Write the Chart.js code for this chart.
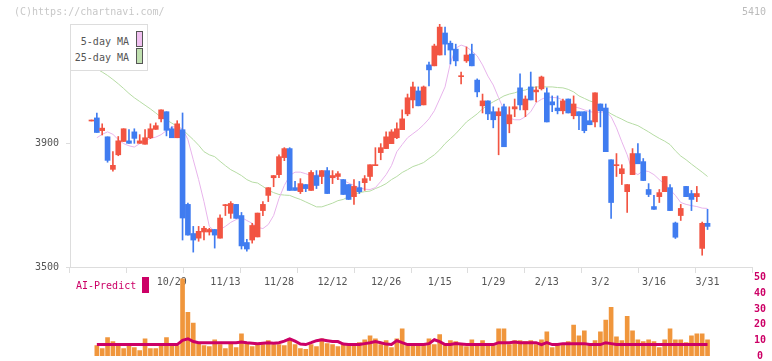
<!DOCTYPE html>
<html>
<head>
<meta charset="utf-8">
<script src="https://cdn.jsdelivr.net/npm/chart.js@4.4.1/dist/chart.umd.min.js"></script>
<style>
html, body { margin: 0; padding: 0; background: #fff; }
#wrap { position: relative; width: 772px; height: 361px; overflow: hidden; font-family: "DejaVu Sans Mono", monospace; font-size: 10px; }
canvas { position: absolute; left: 0; }
#price { top: 0; z-index: 1; }
#vol { top: 268px; z-index: 2; }
.t { position: absolute; white-space: nowrap; line-height: 12px; z-index: 3; }
#legend { position: absolute; left: 70px; top: 24px; width: 78px; height: 47px; box-sizing: border-box; border: 1px solid #ddd; background: #fff; z-index: 3; }
#legend span { position: absolute; white-space: nowrap; line-height: 12px; color: #555; font-size: 10px; }
#legend i { position: absolute; display: block; box-sizing: border-box; border: 1px solid #555; width: 7px; }
</style>
</head>
<body>
<div id="wrap">
  <canvas id="price" width="772" height="300"></canvas>
  <canvas id="vol" width="772" height="96"></canvas>
  <div class="t" style="left:14px;top:6px;color:#c8c8c8;">(C)https://chartnavi.com/</div>
  <div class="t" style="right:6px;top:6px;color:#bbb;">5410</div>
  <div id="legend">
    <span style="right:18px;top:11px;">5-day MA</span>
    <i style="left:65px;top:6px;height:16px;background:#f0c0f0;"></i>
    <span style="right:18px;top:27px;">25-day MA</span>
    <i style="left:65px;top:23px;height:16px;background:#c0e0b0;"></i>
  </div>
  <div class="t" style="left:76px;top:280px;color:#cc0066;">AI-Predict</div>
  <div style="position:absolute;left:142px;top:277px;width:7px;height:16px;background:#cc0066;z-index:3;"></div>
</div>
<script>
// trading days, 2025/10/7 .. 2026/3/31
const dates = [
  '10/7','10/8','10/9','10/10','10/14','10/15','10/16','10/17','10/20','10/21','10/22','10/23','10/24','10/27','10/28',
  '10/29','10/30','10/31','11/4','11/5','11/6','11/7','11/10','11/11','11/12','11/13','11/14','11/17','11/18','11/19',
  '11/20','11/21','11/25','11/26','11/27','11/28','12/1','12/2','12/3','12/4','12/5','12/8','12/9','12/10','12/11',
  '12/12','12/15','12/16','12/17','12/18','12/19','12/22','12/23','12/24','12/25','12/26','12/29','12/30','1/5','1/6',
  '1/7','1/8','1/9','1/13','1/14','1/15','1/16','1/19','1/20','1/21','1/22','1/23','1/26','1/27','1/28',
  '1/29','1/30','2/2','2/3','2/4','2/5','2/6','2/9','2/10','2/12','2/13','2/16','2/17','2/18','2/19',
  '2/20','2/24','2/25','2/26','2/27','3/2','3/3','3/4','3/5','3/6','3/9','3/10','3/11','3/12','3/13',
  '3/16','3/17','3/18','3/19','3/23','3/24','3/25','3/26','3/27','3/30','3/31'
];

const opens = [
  3971,3981,3940,3920,3815,3862,3905,3907,3936,3899,3896,3917,3944,3978,4001,3946,3917,3943,3702,3608,
  3593,3613,3613,3621,3593,3698,3673,3702,3666,3579,3587,3597,3682,3731,3788,3798,3853,3882,3756,3743,
  3766,3747,3795,3792,3811,3788,3792,3782,3766,3727,3756,3772,3792,3827,3869,3882,3898,3917,3943,3994,
  4039,4068,4023,4152,4149,4184,4255,4222,4203,4114,4165,4187,4103,4020,4036,4001,3988,4017,3962,4010,
  4078,4007,4081,4065,4075,4062,4033,4013,4004,4042,3988,4001,4001,3972,3968,4026,4013,3846,3827,3801,
  3743,3798,3866,3840,3750,3695,3727,3743,3756,3642,3666,3760,3737,3727,3560,3641
];
const highs = [
  3972,3997,3962,3920,3872,3921,3946,3943,3946,3927,3943,3962,3965,4007,4001,3952,3972,3997,3706,3631,
  3631,3631,3625,3621,3668,3702,3711,3702,3676,3589,3641,3674,3711,3756,3795,3862,3885,3885,3776,3785,
  3766,3811,3811,3811,3821,3811,3808,3782,3766,3782,3776,3795,3830,3885,3898,3936,3943,3965,4007,4058,
  4097,4081,4084,4161,4219,4284,4274,4229,4219,4129,4210,4219,4107,4058,4036,4017,4013,4026,4017,4042,
  4123,4052,4129,4081,4116,4078,4052,4052,4042,4042,4052,4001,4001,4007,4062,4026,4026,3846,3866,3830,
  3766,3882,3898,3850,3769,3731,3750,3792,3766,3645,3702,3760,3747,3760,3645,3686
];
const lows = [
  3971,3934,3926,3838,3809,3859,3905,3899,3899,3899,3896,3914,3944,3968,3923,3917,3917,3587,3603,3548,
  3583,3587,3603,3561,3593,3666,3657,3657,3558,3551,3577,3597,3666,3711,3759,3788,3843,3747,3747,3737,
  3743,3747,3753,3769,3737,3769,3782,3734,3718,3702,3737,3747,3779,3827,3846,3882,3898,3914,3943,3988,
  4013,4020,4023,4084,4149,4184,4184,4155,4149,4091,4160,4149,4049,3997,3975,3949,3862,3888,3933,3985,
  4007,3985,4039,4033,4071,3968,4001,3994,3994,3997,3978,3943,3933,3959,3952,3952,3872,3657,3792,3766,
  3676,3798,3833,3779,3727,3686,3708,3743,3682,3592,3650,3727,3682,3711,3538,3621
];
const closes = [
  3972,3934,3948,3844,3828,3907,3946,3899,3915,3907,3917,3946,3956,4007,3941,3917,3962,3658,3603,3587,
  3615,3625,3621,3603,3658,3701,3705,3657,3568,3558,3634,3674,3702,3756,3795,3856,3882,3747,3747,3769,
  3753,3805,3763,3811,3737,3795,3801,3734,3718,3760,3743,3785,3830,3830,3885,3920,3936,3946,3978,4046,
  4081,4020,4081,4136,4213,4274,4219,4200,4165,4117,4184,4149,4065,4036,3994,3975,4001,3888,3991,4017,
  4023,4042,4039,4071,4113,3968,4023,4004,4036,3997,4026,3988,3940,3959,4062,4004,3872,3708,3830,3817,
  3766,3866,3833,3779,3734,3686,3740,3792,3682,3596,3689,3727,3718,3737,3641,3631
];

const ma5 = [
  null,3917,3928,3936,3928,3911,3898,3891,3887,3898,3907,3915,3919,3927,3940,3952,3952,3946,3911,3846,
  3782,3711,3631,3615,3621,3631,3644,3653,3660,3650,3641,3628,3624,3637,3666,3721,3763,3795,3806,3806,
  3801,3795,3796,3800,3796,3792,3785,3779,3771,3763,3756,3751,3750,3756,3776,3798,3827,3872,3895,3917,
  3930,3943,3959,3978,4004,4042,4081,4158,4206,4216,4210,4197,4181,4152,4116,4087,4046,4007,3981,3975,
  3975,3985,4001,4030,4041,4049,4047,4046,4039,4030,4017,4013,4007,4001,3999,3999,4002,3985,3949,3904,
  3862,3808,3798,3811,3808,3798,3782,3766,3750,3731,3708,3702,3698,3695,3690,3689
];
const ma25 = [
  4149,4139,4129,4118,4105,4091,4076,4060,4046,4034,4022,4010,3997,3983,3975,3964,3954,3944,3927,3911,
  3893,3872,3862,3856,3841,3827,3814,3805,3795,3782,3774,3771,3760,3748,3740,3734,3732,3731,3724,3718,
  3710,3702,3694,3694,3700,3706,3714,3718,3727,3734,3740,3743,3745,3753,3760,3769,3782,3792,3805,3814,
  3824,3830,3837,3850,3862,3878,3898,3914,3930,3949,3968,3981,3994,4010,4023,4033,4042,4052,4058,4062,
  4068,4071,4078,4081,4081,4081,4081,4079,4078,4073,4065,4052,4044,4036,4030,4017,4005,3994,3985,3977,
  3968,3962,3956,3946,3936,3925,3915,3906,3895,3875,3858,3846,3832,3819,3806,3792
];

// volume (10k shares) and AI-Predict line
const volume = [
  null,6.7,4.8,11.7,9.2,6.7,4.8,6.7,5.4,3.5,11.0,4.8,4.8,6.7,11.7,6.7,6.7,49.2,27.9,21.1,
  7.9,6.7,6.0,10.4,7.3,4.8,7.9,5.4,14.2,7.9,6.0,7.3,7.3,9.8,7.3,7.3,6.7,11.0,7.3,4.8,
  4.2,7.3,6.0,11.0,7.9,7.3,6.0,7.9,7.3,7.9,8.5,10.4,12.9,11.0,7.3,9.8,5.4,11.0,17.3,7.3,
  7.3,7.3,7.3,11.0,7.3,13.6,7.3,9.8,9.2,7.3,6.0,10.4,7.3,9.8,7.3,7.3,17.3,17.3,7.3,9.8,
  9.8,9.2,9.8,7.3,10.4,15.4,5.4,7.3,7.3,9.2,19.8,12.9,16.0,7.3,9.8,15.4,23.0,31.1,12.3,9.8,
  25.4,16.0,10.4,9.2,10.4,9.2,5.4,10.4,17.3,10.4,10.4,8.5,12.9,14.2,14.2,10.4
];
const aiPredict = [
  null,7.3,7.3,7.3,7.3,7.3,7.3,7.3,7.3,7.3,7.3,7.3,7.3,7.3,7.3,7.3,7.3,10.0,11.0,9.2,
  8.5,8.5,8.5,8.5,8.5,8.5,8.5,8.5,9.0,8.5,8.2,7.9,8.2,8.5,8.2,8.5,9.5,11.0,9.5,7.6,
  7.3,8.5,9.8,10.4,9.8,9.2,9.2,7.6,7.3,7.3,7.3,7.9,8.5,9.2,8.5,7.6,7.3,9.8,8.5,7.3,
  7.3,7.3,7.3,7.9,10.4,9.2,7.3,7.3,7.9,7.6,7.3,7.3,7.3,7.3,7.3,7.3,8.5,8.5,8.5,9.0,
  8.5,8.5,8.5,8.5,7.3,8.5,7.3,7.3,7.9,7.9,7.9,7.9,7.9,7.3,7.3,7.3,8.5,7.9,7.3,7.3,
  7.3,7.3,7.3,7.3,7.3,7.3,7.3,7.3,7.3,7.3,7.3,7.3,7.3,7.3,7.3,7.3
];

const priceTicks = [3500, 3900];
const volumeTicks = [0, 10, 20, 30, 40, 50];

const UP = '#f25442';
const DOWN = '#407cf0';
const MONO = "'DejaVu Sans Mono', monospace";
Chart.defaults.font.family = MONO;
Chart.defaults.font.size = 10;

const xMin = -4.01, xMax = 123.3;
const candleColors = opens.map((o, i) => closes[i] >= o ? UP : DOWN);
const pts = arr => arr.map((v, i) => ({ x: i, y: v }));

new Chart(document.getElementById('price'), {
    type: 'bar',
    data: {
        datasets: [
            {
                type: 'line', data: pts(ma5), borderColor: '#e8b4ec', borderWidth: 1,
                pointRadius: 0, tension: 0, order: 3, xAxisID: 'x', yAxisID: 'y',
            },
            {
                type: 'line', data: pts(ma25), borderColor: '#b6dca4', borderWidth: 1,
                pointRadius: 0, tension: 0, order: 3, xAxisID: 'x', yAxisID: 'y',
            },
            {
                data: dates.map((d, i) => ({ x: i, y: [lows[i], highs[i]] })),
                backgroundColor: candleColors, barThickness: 1, grouped: false,
                minBarLength: 1, order: 2, xAxisID: 'x', yAxisID: 'y',
            },
            {
                data: dates.map((d, i) => ({ x: i, y: [opens[i], closes[i]] })),
                backgroundColor: candleColors, barThickness: 5, grouped: false,
                minBarLength: 1, order: 1, xAxisID: 'x', yAxisID: 'y',
            },
        ]
    },
    options: {
        responsive: false,
        animation: false,
        layout: { padding: { top: 24, right: 20, left: 0, bottom: 0 } },
        plugins: { legend: { display: false }, tooltip: { enabled: false } },
        scales: {
            x: {
                type: 'linear', min: xMin, max: xMax, position: 'bottom', weight: 1, offset: false,
                grid: { display: false, drawTicks: false },
                border: { display: false },
                afterBuildTicks: s => {
                    s.ticks = dates.map((d, i) => i).filter(i => i >= 15 && (i - 15) % 10 === 0).map(v => ({ value: v }));
                },
                afterFit: s => { s.height = 27; },
                ticks: {
                    autoSkip: false, maxRotation: 0, padding: 3.5, color: '#555',
                    callback: v => dates[v],
                },
            },
            xt: {
                type: 'linear', min: 0, max: 11, position: 'bottom', weight: 0,
                ticks: { display: false, stepSize: 1 },
                grid: { drawOnChartArea: false, tickLength: 6, color: '#ddd' },
                border: { color: '#ddd' },
                afterFit: s => { s.height = 6; },
            },
            y: {
                min: 3500, max: 4284, position: 'left',
                afterBuildTicks: s => { s.ticks = priceTicks.map(v => ({ value: v })); },
                afterFit: s => { s.width = 70; },
                grid: { drawOnChartArea: false, tickLength: 4, color: '#ddd' },
                border: { color: '#ddd' },
                ticks: { padding: 7, color: '#555', callback: v => String(v) },
            },
        }
    }
});

new Chart(document.getElementById('vol'), {
    type: 'bar',
    data: {
        datasets: [
            {
                type: 'line', data: pts(aiPredict), borderColor: '#cc0066', borderWidth: 3,
                pointRadius: 0, tension: 0, order: 0,
            },
            {
                data: pts(volume), backgroundColor: '#f0963c', barThickness: 4,
                grouped: false, order: 1,
            },
        ]
    },
    options: {
        responsive: false,
        animation: false,
        layout: { padding: { top: 9.7, right: 0, left: 70, bottom: 6.3 } },
        plugins: { legend: { display: false }, tooltip: { enabled: false } },
        scales: {
            x: { type: 'linear', min: xMin, max: xMax, display: false, offset: false },
            y: {
                position: 'right', min: 0, max: 50,
                afterBuildTicks: s => { s.ticks = volumeTicks.map(v => ({ value: v })); },
                afterFit: s => { s.width = 20; },
                grid: { display: false, drawTicks: false },
                border: { display: false },
                ticks: { padding: 2, crossAlign: 'center', color: '#cc0066', font: { weight: 'bold' } },
            },
        }
    }
});
</script>
</body>
</html>
